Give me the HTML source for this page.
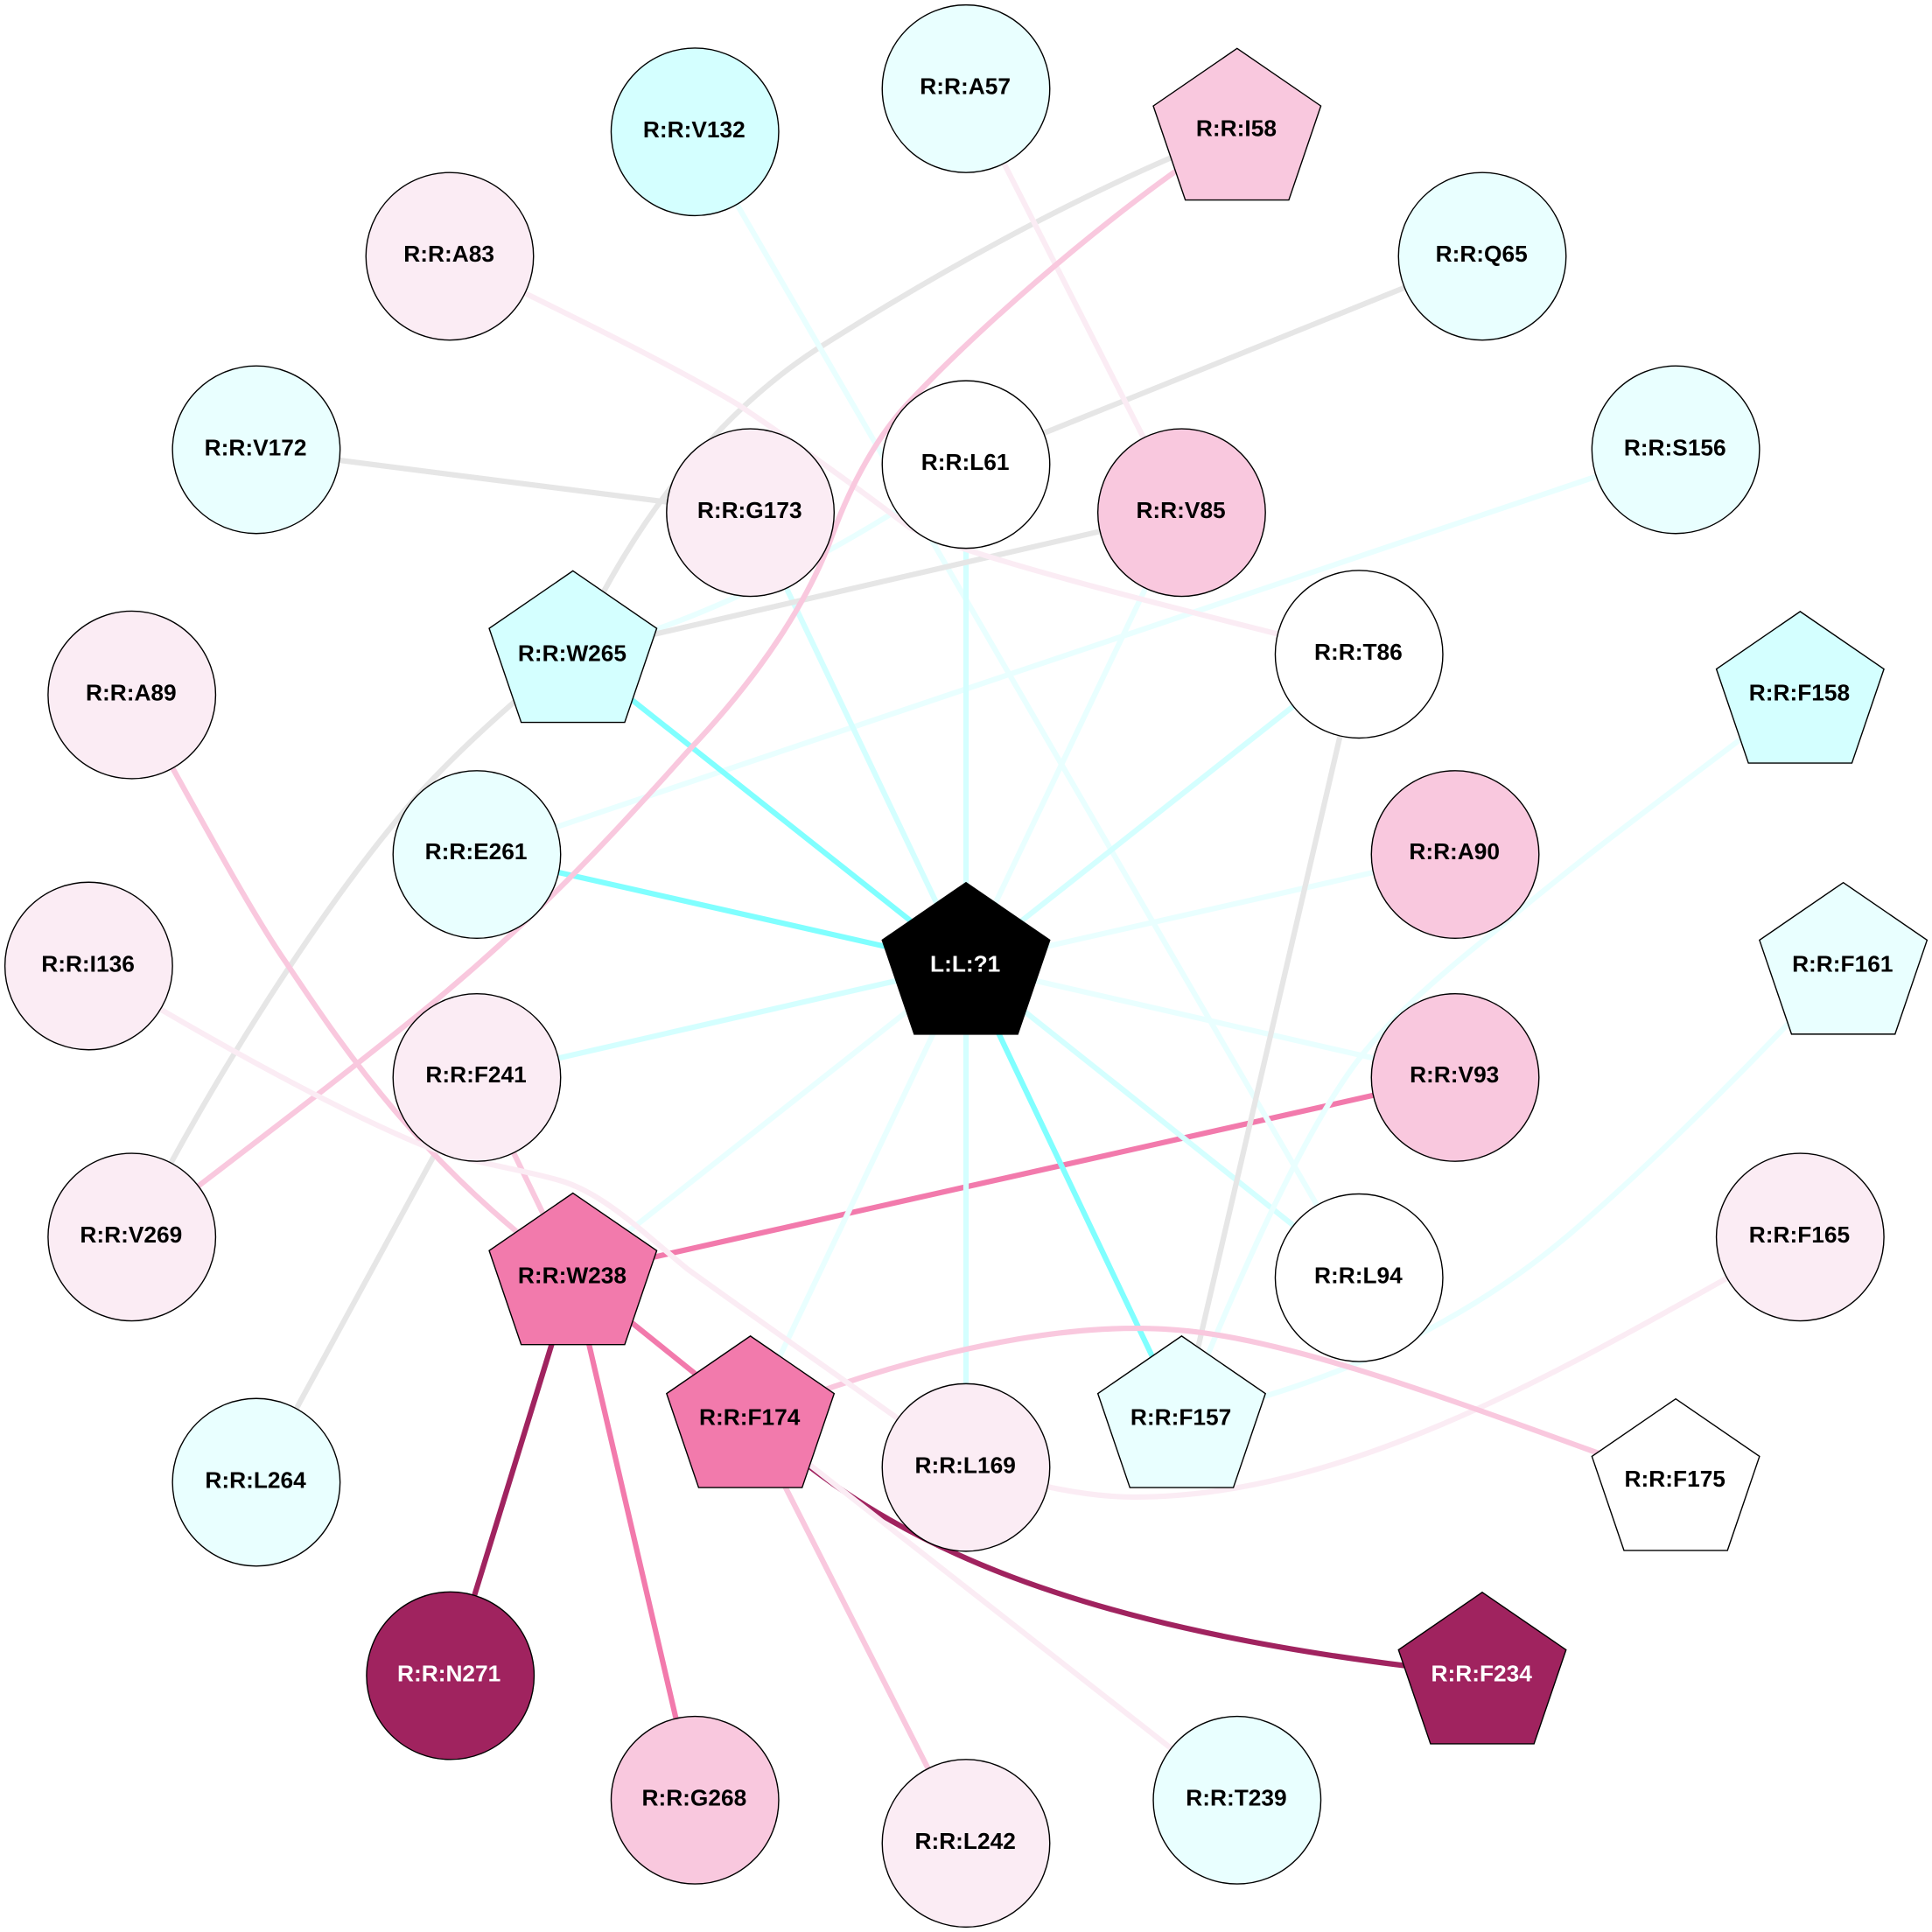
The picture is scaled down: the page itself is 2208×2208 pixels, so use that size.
<!DOCTYPE html>
<html><head><meta charset="utf-8"><style>
html,body{margin:0;padding:0;background:#fff}
svg{display:block}
text{font-family:"Liberation Sans",Arial,sans-serif;font-weight:bold;font-size:18.67px;text-anchor:middle;fill:#000}
.e{fill:none;stroke-width:4.4}
.n{stroke:#000;stroke-width:1}
</style></head><body>
<svg xmlns="http://www.w3.org/2000/svg" width="2208" height="2208" viewBox="0 0 1568 1568">
<defs>
<polygon id="p" points="0,-66.7 68,-20 42,56.3 -42,56.3 -68,-20"/>
</defs>
<rect width="1568" height="1568" fill="#fff"/>
<g class="edges">
<path class="e" stroke="#f27aac" d="M465,1035L1181,874"/>
<path class="e" stroke="#e6e6e6" d="M1004,106C890,150 770,215 662,284C590,331 520,410 465,530"/>
<path class="e" stroke="#e6e6e6" d="M465,530C400,582 350,630 320,668C265,735 180,860 107,1004"/>
<path class="e" stroke="#e6e6e6" d="M208,365L609,416"/>
<path class="e" stroke="#e6e6e6" d="M1203,208L784,377"/>
<path class="e" stroke="#e6e6e6" d="M387,874L208,1203"/>
<path class="e" stroke="#e9ffff" d="M564,107L1103,1037"/>
<path class="e" stroke="#e9ffff" d="M465,530C560,510 680,450 784,377"/>
<path class="e" stroke="#e9ffff" d="M1360,365L387,693"/>
<path class="e" stroke="#d4ffff" d="M784,783L609,416"/>
<path class="e" stroke="#d4ffff" d="M784,783L784,377"/>
<path class="e" stroke="#e9ffff" d="M784,783L959,416"/>
<path class="e" stroke="#d4ffff" d="M784,783L1103,531"/>
<path class="e" stroke="#e9ffff" d="M784,783L1181,693"/>
<path class="e" stroke="#e9ffff" d="M784,783L1181,874"/>
<path class="e" stroke="#d4ffff" d="M784,783L1103,1037"/>
<path class="e" stroke="#d4ffff" d="M784,783L784,1191"/>
<path class="e" stroke="#e9ffff" d="M784,783L609,1151"/>
<path class="e" stroke="#e9ffff" d="M784,783L465,1035"/>
<path class="e" stroke="#d4ffff" d="M784,783L387,874"/>
<path class="e" stroke="#80ffff" d="M784,783L465,530"/>
<path class="e" stroke="#80ffff" d="M784,783L387,693"/>
<path class="e" stroke="#80ffff" d="M784,783L959,1151"/>
<path class="e" stroke="#e6e6e6" d="M959,416L465,530"/>
<path class="e" stroke="#e6e6e6" d="M1103,531L959,1151"/>
<path class="e" stroke="#e9ffff" d="M1461,563C1385,622 1290,690 1213,756C1170,790 1130,825 1104,858C1060,915 1010,1025 959,1151"/>
<path class="e" stroke="#e9ffff" d="M1496,783C1430,855 1350,935 1285,992C1220,1050 1120,1115 959,1151"/>
<path class="e" stroke="#fbecf4" d="M784,72L959,416"/>
<path class="e" stroke="#fbecf4" d="M365,208C440,245 535,290 600,329C640,356 695,395 738,428C780,450 930,488 1103,531"/>
<path class="e" stroke="#f9c8de" d="M1004,106C930,150 810,250 742,322C712,352 690,395 676,433C660,478 625,540 558,610C500,675 440,740 356,810C290,865 190,940 107,1004"/>
<path class="e" stroke="#f9c8de" d="M107,564C150,640 200,735 232,781C275,845 340,945 465,1035"/>
<path class="e" stroke="#f9c8de" d="M387,874L465,1035"/>
<path class="e" stroke="#f27aac" d="M465,1035L609,1151"/>
<path class="e" stroke="#f27aac" d="M465,1035L564,1461"/>
<path class="e" stroke="#a0235f" d="M465,1035L365,1360"/>
<path class="e" stroke="#a0235f" d="M609,1151C700,1230 820,1320 1203,1359"/>
<path class="e" stroke="#fbecf4" d="M609,1151L1004,1461"/>
<path class="e" stroke="#f9c8de" d="M609,1151L784,1496"/>
<path class="e" stroke="#fbecf4" d="M1461,1004C1280,1105 1100,1215 920,1215C880,1215 840,1205 784,1191"/>
<path class="e" stroke="#f9c8de" d="M609,1151C720,1105 850,1072 950,1079C1050,1085 1200,1145 1360,1202"/>
<path class="e" stroke="#fbecf4" d="M72,784C130,820 250,890 337,927C375,943 420,948 454,958C490,968 525,1003 558,1030C620,1075 700,1130 784,1191"/>
</g>
<g class="n">
<circle cx="564" cy="107" r="68" fill="#d4ffff"/>
<circle cx="784" cy="72" r="68" fill="#e9ffff"/>
<circle cx="365" cy="208" r="68" fill="#fbecf4"/>
<circle cx="1203" cy="208" r="68" fill="#e9ffff"/>
<circle cx="208" cy="365" r="68" fill="#e9ffff"/>
<circle cx="1360" cy="365" r="68" fill="#e9ffff"/>
<circle cx="784" cy="377" r="68" fill="#ffffff"/>
<circle cx="609" cy="416" r="68" fill="#fbecf4"/>
<circle cx="959" cy="416" r="68" fill="#f9c8de"/>
<circle cx="1103" cy="531" r="68" fill="#ffffff"/>
<circle cx="107" cy="564" r="68" fill="#fbecf4"/>
<circle cx="387" cy="693.5" r="68" fill="#e9ffff"/>
<circle cx="1181" cy="693.5" r="68" fill="#f9c8de"/>
<circle cx="72" cy="784" r="68" fill="#fbecf4"/>
<circle cx="387" cy="874.5" r="68" fill="#fbecf4"/>
<circle cx="1181" cy="874.5" r="68" fill="#f9c8de"/>
<circle cx="107" cy="1004" r="68" fill="#fbecf4"/>
<circle cx="1461" cy="1004" r="68" fill="#fbecf4"/>
<circle cx="1103" cy="1037" r="68" fill="#ffffff"/>
<circle cx="784" cy="1191" r="68" fill="#fbecf4"/>
<circle cx="208" cy="1203" r="68" fill="#e9ffff"/>
<circle cx="365.5" cy="1360" r="68" fill="#a0235f"/>
<circle cx="564" cy="1461" r="68" fill="#f9c8de"/>
<circle cx="1004" cy="1461" r="68" fill="#e9ffff"/>
<circle cx="784" cy="1496" r="68" fill="#fbecf4"/>
<use href="#p" x="1004" y="106" fill="#f9c8de"/>
<use href="#p" x="465" y="530" fill="#d4ffff"/>
<use href="#p" x="1461" y="563" fill="#d4ffff"/>
<use href="#p" x="1496" y="783" fill="#e9ffff"/>
<use href="#p" x="784" y="783" fill="#000000"/>
<use href="#p" x="465" y="1035" fill="#f27aac"/>
<use href="#p" x="609" y="1151" fill="#f27aac"/>
<use href="#p" x="959" y="1151" fill="#e9ffff"/>
<use href="#p" x="1360" y="1202" fill="#ffffff"/>
<use href="#p" x="1203" y="1359" fill="#a0235f"/>
</g>
<g transform="translate(-0.6,0.5)">
<text x="564" y="111">R:R:V132</text>
<text x="784" y="76">R:R:A57</text>
<text x="365" y="212">R:R:A83</text>
<text x="1203" y="212">R:R:Q65</text>
<text x="208" y="369">R:R:V172</text>
<text x="1360" y="369">R:R:S156</text>
<text x="784" y="381">R:R:L61</text>
<text x="609" y="420">R:R:G173</text>
<text x="959" y="420">R:R:V85</text>
<text x="1103" y="535">R:R:T86</text>
<text x="107" y="568">R:R:A89</text>
<text x="387" y="697">R:R:E261</text>
<text x="1181" y="697">R:R:A90</text>
<text x="72" y="788">R:R:I136</text>
<text x="387" y="878">R:R:F241</text>
<text x="1181" y="878">R:R:V93</text>
<text x="107" y="1008">R:R:V269</text>
<text x="1461" y="1008">R:R:F165</text>
<text x="1103" y="1041">R:R:L94</text>
<text x="784" y="1195">R:R:L169</text>
<text x="208" y="1207">R:R:L264</text>
<text x="365" y="1364" style="fill:#fff">R:R:N271</text>
<text x="564" y="1465">R:R:G268</text>
<text x="1004" y="1465">R:R:T239</text>
<text x="784" y="1500">R:R:L242</text>
<text x="1004" y="110">R:R:I58</text>
<text x="465" y="536">R:R:W265</text>
<text x="1461" y="568">R:R:F158</text>
<text x="1496" y="788">R:R:F161</text>
<text x="784" y="788" style="fill:#fff">L:L:?1</text>
<text x="465" y="1041">R:R:W238</text>
<text x="609" y="1156">R:R:F174</text>
<text x="959" y="1156">R:R:F157</text>
<text x="1360" y="1206">R:R:F175</text>
<text x="1203" y="1364" style="fill:#fff">R:R:F234</text>
</g>
</svg>
</body></html>
